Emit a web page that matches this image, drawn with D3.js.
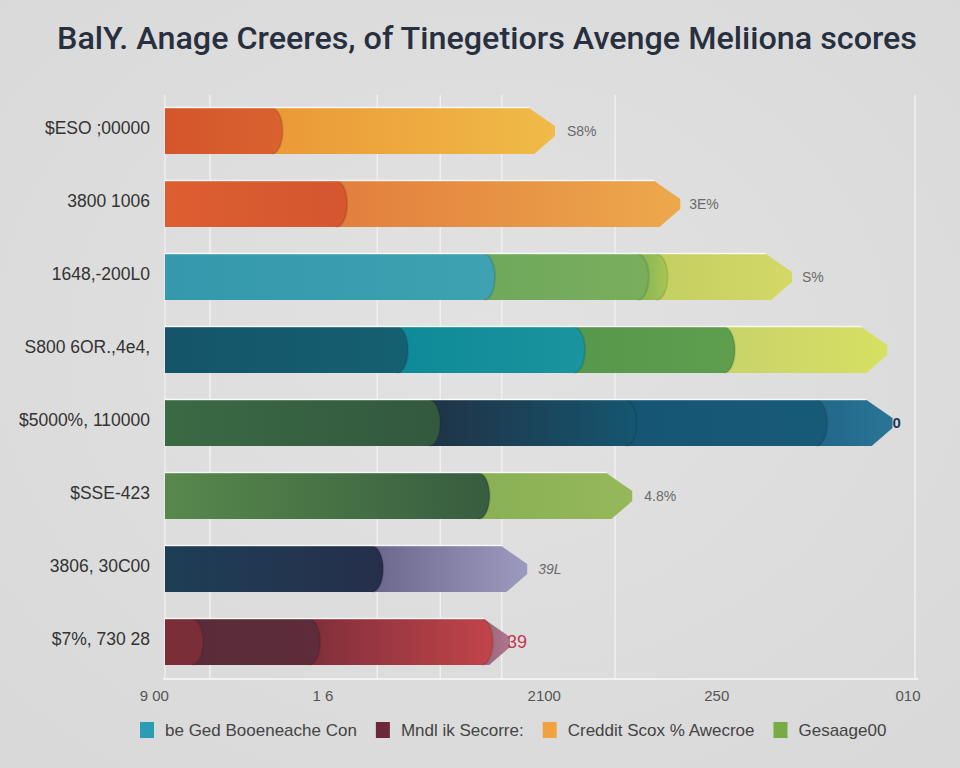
<!DOCTYPE html>
<html><head><meta charset="utf-8">
<script src="https://cdn.jsdelivr.net/npm/d3@7"></script>
<style>body{margin:0;background:#dedede}svg{display:block}</style>
</head><body><svg id="c" width="960" height="768"></svg>
<script>
// ---------- data ----------
const title = "BalY. Anage Creeres, of Tinegetiors  Avenge Meliiona scores";
const categories = ["$ESO ;00000","3800 1006","1648,-200L0","S800 6OR.,4e4,","$5000%, 110000","$SSE-423","3806, 30C00","$7%, 730 28"];
// cumulative segment end values for each bar
const segmentEnds = [
  [15.7, 52],
  [24.3, 68.7],
  [44, 64.5, 67, 83.6],
  [32.4, 56, 76, 96.3],
  [36.7, 62.9, 88.3, 97],
  [43.3, 62.3],
  [29.1, 48.3],
  [5.1, 20.7, 43.7, 46]
];
const endLabels = ["S8%","3E%","S%","","0","4.8%","39L","39"];
const xTickValues = [-1.5, 21, 50.5, 73.5, 99];
const xTickLabels = ["9 00","1 6","2100","250","010"];
const gridValues = [6, 28.3, 36.7, 44.9, 60, 100];
const legendLabels = ["be Ged Booeneache Con","Mndl ik Secorre:","Creddit Scox % Awecroe","Gesaage00"];

// ---------- styles ----------
const segColors = [
  [["#d4552c","#d9622f"],["#eb9a38","#f0bb48"]],
  [["#dc5e31","#d5562f"],["#e2803e","#eda84c"]],
  [["#3598ac","#3ea2b2"],["#6fa95c","#7aae5c"],["#8fba54","#a8c656"],["#c4d062","#d4d866"]],
  [["#15546a","#146070"],["#0f8a98","#1a949e"],["#57984c","#5e9e4e"],["#c9d46a","#d6e062"]],
  [["#3a6a44","#33583f"],["#1f3548","#155670"],["#165674","#175a78"],["#22698a","#2a7596"]],
  [["#58894c","#375c3f"],["#8ab155","#95b85a"]],
  [["#1e3e56","#262f4a"],["#6f6a90","#9d9ac0"]],
  [["#7a2e38","#7a2e38"],["#5a2c3a","#5e2c3a"],["#84303c","#c2444a"],["#a06a80","#b07890"]]
];
const labelStyle = [
  {c:"#6a6a6a",gap:12,s:14},{c:"#6a6a6a",gap:9,s:14},{c:"#6a6a6a",gap:10,s:14},{c:"#6a6a6a",gap:10,s:14},
  {c:"#1d3a55",gap:0,s:15,b:true},{c:"#6a6a6a",gap:12,s:14},{c:"#6a6a6a",gap:11,s:14,i:true},{c:"#c03a50",gap:-3,s:18}
];
const legendColors = ["#2a9cb4","#6a2838","#f0a240","#78aa46"];

const svg = d3.select("#c");
const W = 960, H = 768;
const defs = svg.append("defs");
const bg = defs.append("radialGradient").attr("id","bg").attr("cx","50%").attr("cy","45%").attr("r","70%");
bg.append("stop").attr("offset","0%").attr("stop-color","#e2e2e2");
bg.append("stop").attr("offset","100%").attr("stop-color","#d9d9d9");
svg.append("rect").attr("width",W).attr("height",H).attr("fill","url(#bg)");

const x = d3.scaleLinear().domain([0,100]).range([165,915]);
const y = d3.scaleBand().domain(categories).range([108-0.185*73, 665+0.185*73]).paddingInner(0.37).paddingOuter(0.185);

// title
svg.append("text").attr("x",487).attr("y",49).attr("text-anchor","middle")
  .attr("font-family","Roboto, Liberation Sans, Arial, sans-serif").attr("font-size",32).attr("font-weight",500)
  .attr("fill","#283040").attr("textLength",860).attr("lengthAdjust","spacingAndGlyphs").text(title);

// grid
const gTop = 95, gBot = 679;
svg.append("g").selectAll("line").data(gridValues).join("line")
  .attr("x1",d=>x(d)).attr("x2",d=>x(d)).attr("y1",gTop).attr("y2",gBot)
  .attr("stroke","#f0f0f0").attr("stroke-width",1.5);
svg.append("line").attr("x1",x(0)).attr("x2",x(0)).attr("y1",gTop).attr("y2",gBot).attr("stroke","#e9e9e9").attr("stroke-width",2);
svg.append("line").attr("x1",x(0)-2).attr("x2",x(100)+3).attr("y1",gBot).attr("y2",gBot).attr("stroke","#f2f2f2").attr("stroke-width",2);

// bars
const bars = svg.append("g");
segmentEnds.forEach((ends,bi)=>{
  const cat = categories[bi];
  const top = y(cat), h = y.bandwidth(), bot = top+h, mid = top+h/2;
  const g = bars.append("g");
  for (let si = ends.length-1; si>=0; si--) {
    const start = si===0?0:ends[si-1];
    const xs = x(start), xe = x(ends[si]), x0 = x(0);
    const gid = `g${bi}_${si}`;
    const lg = defs.append("linearGradient").attr("id",gid).attr("gradientUnits","userSpaceOnUse")
      .attr("x1",xs).attr("x2",xe).attr("y1",0).attr("y2",0);
    lg.append("stop").attr("offset","0%").attr("stop-color",segColors[bi][si][0]);
    lg.append("stop").attr("offset","100%").attr("stop-color",segColors[bi][si][1]);
    let d;
    if (si===ends.length-1) {
      const c = 26;
      d = `M${x0},${top} H${xe-c} L${xe},${mid-5} L${xe},${mid+5} L${xe-c*0.8},${bot} H${x0} Z`;
    } else {
      const r = 11;
      d = `M${x0},${top} H${xe-r} A${r},${h/2} 0 0 1 ${xe-r},${bot} H${x0} Z`;
    }
    g.append("path").attr("d",d).attr("fill",`url(#${gid})`);
    if (si!==ends.length-1) {
      const r = 11;
      g.append("path").attr("d",`M${xe-r},${top} A${r},${h/2} 0 0 1 ${xe-r},${bot}`)
        .attr("fill","none").attr("stroke","rgba(0,0,0,0.10)").attr("stroke-width",2);
    }
  }
  g.append("line").attr("x1",x(0)).attr("x2",x(ends[ends.length-1])-26).attr("y1",top-0.5).attr("y2",top-0.5)
    .attr("stroke","rgba(255,255,255,0.8)").attr("stroke-width",1.5);
  const ls = labelStyle[bi];
  svg.append("text").attr("x",x(ends[ends.length-1])+ls.gap).attr("y",mid).attr("dy","0.35em")
    .attr("font-family","Liberation Sans, Arial, sans-serif").attr("font-size",ls.s)
    .attr("font-weight",ls.b?"bold":"normal")
    .attr("font-style",ls.i?"italic":"normal").attr("fill",ls.c).text(endLabels[bi]);
});

// y axis
const ya = svg.append("g").attr("transform","translate(150,-3)")
  .call(d3.axisLeft(y).tickSize(0).tickPadding(0));
ya.select(".domain").remove();
ya.selectAll("text").attr("font-family","Liberation Sans, Arial, sans-serif").attr("font-size",17.5).attr("fill","#333");

// x axis
const xa = svg.append("g").attr("transform",`translate(0,${gBot})`)
  .call(d3.axisBottom(x).tickValues(xTickValues).tickFormat((d,i)=>xTickLabels[i]).tickSize(0).tickPadding(11));
xa.select(".domain").remove();
xa.selectAll("text").attr("font-family","Liberation Sans, Arial, sans-serif").attr("font-size",15).attr("fill","#555");

// legend
const lgG = svg.append("g").attr("transform","translate(140,730)");
let cx = 0;
legendLabels.forEach((t,i)=>{
  const it = lgG.append("g").attr("transform",`translate(${cx},0)`);
  it.append("rect").attr("x",0).attr("y",-8).attr("width",14).attr("height",16).attr("fill",legendColors[i]);
  const tx = it.append("text").attr("x",25).attr("y",0).attr("dy","0.35em")
    .attr("font-family","Liberation Sans, Arial, sans-serif").attr("font-size",17).attr("fill","#444").text(t);
  cx += 25 + tx.node().getComputedTextLength() + 19;
});
</script></body></html>
